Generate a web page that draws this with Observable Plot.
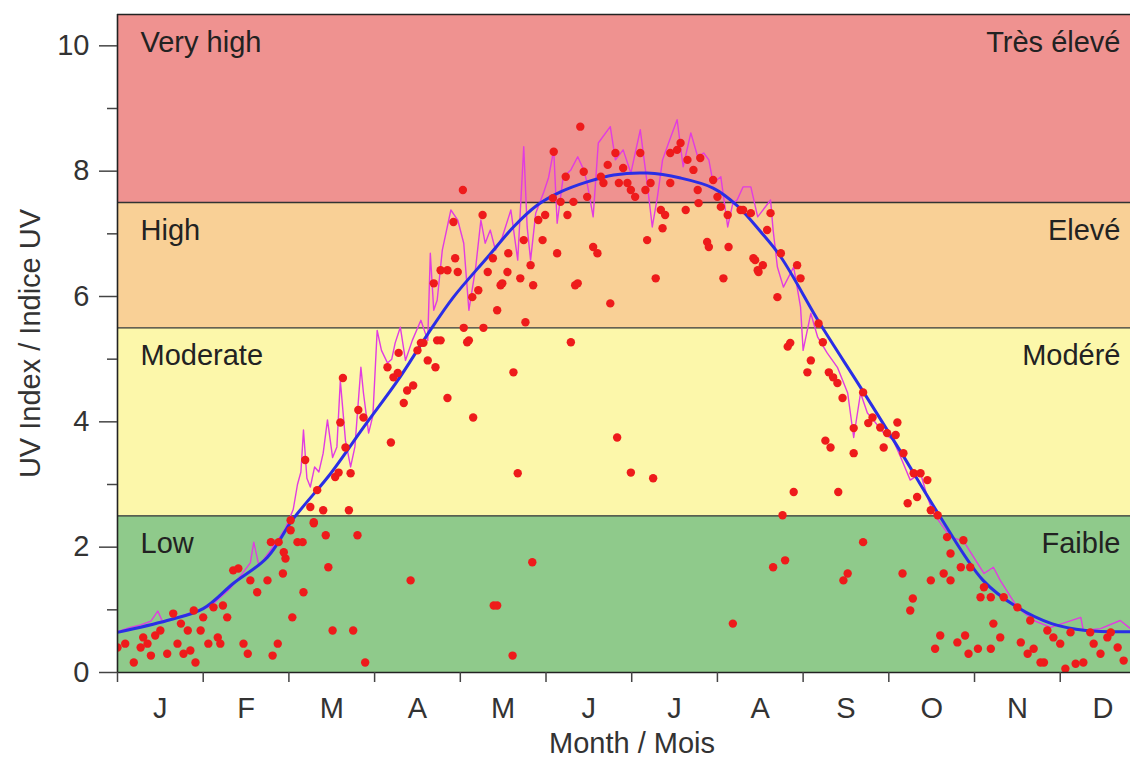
<!DOCTYPE html>
<html>
<head>
<meta charset="utf-8">
<script src="https://cdn.jsdelivr.net/npm/d3@7"></script>
<script src="https://cdn.jsdelivr.net/npm/@observablehq/plot@0.6"></script>
<style>
  html, body { margin: 0; padding: 0; background: #fff; }
  #chart svg { display: block; }
</style>
</head>
<body>
<div id="chart"></div>
<script>
// Month labels and boundaries (x in month units, 0 = 1 January)
const monthLabels = ["J","F","M","A","M","J","J","A","S","O","N","D"];
const monthStarts = [0,1,2,3,4,5,6,7,8,9,10,11];
const monthCentres = [0.5,1.5,2.5,3.5,4.5,5.5,6.5,7.5,8.5,9.5,10.5,11.5];
const xEnd = 11.82;     // visible end of the year
const yTop = 10.5;

// UV-index categories
const bandLow = [0, 2.5, 5.5, 7.5];
const bandHigh = [2.5, 5.5, 7.5, 10.5];
const bandEnglish = ["Low", "Moderate", "High", "Very high"];
const bandFrench = ["Faible", "Modéré", "Elevé", "Très élevé"];
const bandColours = ["#8fca8b", "#fcf7aa", "#f9d096", "#ef9290"];

const majorTicks = [0, 2, 4, 6, 8, 10];
const minorTicks = [1, 3, 5, 7, 9];

// Smooth climatological curve [month, UV]
const climatology = [
  [0.00,0.64],[0.58,0.83],[1.00,1.02],[1.35,1.42],[1.75,1.84],[2.05,2.45],
  [2.49,3.18],[2.87,3.91],[3.27,4.66],[3.62,5.40],[3.92,5.99],[4.32,6.63],
  [4.62,7.11],[4.90,7.46],[5.17,7.67],[5.48,7.83],[5.79,7.94],[6.18,7.97],
  [6.57,7.89],[6.95,7.73],[7.23,7.45],[7.50,7.04],[7.74,6.63],[8.20,5.56],
  [8.67,4.55],[9.14,3.52],[9.57,2.55],[10.10,1.47],[10.50,1.04],[10.90,0.78],
  [11.30,0.67],[11.82,0.65]
];

// Noisy daily clear-sky maximum [month, UV]
const dailyMax = [
  [0.00,0.65],[0.15,0.72],[0.27,0.76],[0.39,0.82],[0.47,0.98],[0.53,0.80],[0.62,0.85],
  [0.74,0.90],[0.85,0.95],[0.97,1.00],[1.09,1.06],[1.20,1.20],[1.32,1.35],[1.44,1.55],
  [1.55,1.75],[1.59,2.08],[1.65,1.70],[1.73,1.85],[1.84,2.05],[1.96,2.30],[2.05,2.60],
  [2.10,3.00],[2.14,3.20],[2.17,3.87],[2.21,3.10],[2.25,2.96],[2.30,3.28],[2.35,3.20],
  [2.40,3.50],[2.45,4.03],[2.51,3.43],[2.56,3.60],[2.60,4.66],[2.66,3.70],[2.72,3.28],
  [2.77,3.60],[2.84,4.87],[2.87,4.46],[2.93,3.82],[2.98,4.10],[3.03,5.46],[3.08,5.14],
  [3.15,4.94],[3.20,5.00],[3.24,5.26],[3.30,5.51],[3.36,4.98],[3.44,5.30],[3.54,5.62],
  [3.62,5.30],[3.65,6.69],[3.69,5.78],[3.73,5.94],[3.79,6.74],[3.89,7.38],[3.97,7.22],
  [4.04,6.85],[4.10,5.78],[4.18,6.47],[4.24,7.22],[4.29,6.85],[4.35,7.06],[4.41,6.74],
  [4.49,6.95],[4.59,7.38],[4.67,6.58],[4.74,8.39],[4.78,7.11],[4.82,6.58],[4.88,7.33],
  [4.97,7.65],[5.03,7.90],[5.09,8.34],[5.13,7.17],[5.20,7.90],[5.29,8.02],[5.37,8.23],
  [5.44,8.02],[5.48,7.81],[5.55,7.27],[5.61,8.45],[5.75,8.71],[5.81,8.18],[5.90,8.34],
  [5.99,7.97],[6.10,8.66],[6.18,7.81],[6.24,7.11],[6.30,7.59],[6.36,8.18],[6.43,8.45],
  [6.53,8.82],[6.60,8.07],[6.69,8.61],[6.77,8.23],[6.84,8.29],[6.90,8.18],[6.95,7.81],
  [7.04,7.91],[7.12,7.11],[7.18,7.49],[7.23,7.54],[7.30,7.75],[7.39,7.75],[7.47,7.27],
  [7.62,7.54],[7.65,7.06],[7.70,6.47],[7.77,6.15],[7.89,6.47],[7.97,5.83],[8.00,5.14],
  [8.09,5.73],[8.17,5.35],[8.28,5.10],[8.40,4.87],[8.52,4.46],[8.59,3.75],[8.67,4.46],
  [8.75,4.14],[8.82,4.03],[8.94,3.82],[9.05,3.71],[9.14,3.43],[9.25,3.07],[9.37,3.18],
  [9.45,2.80],[9.52,2.54],[9.72,2.16],[9.87,2.10],[10.11,1.58],[10.22,1.68],[10.30,1.47],
  [10.50,1.04],[10.69,0.83],[10.89,0.72],[11.24,0.88],[11.27,0.67],[11.47,0.70],
  [11.70,0.83],[11.82,0.70]
];

// Measured daily maxima [month, UV]
const observed = [
  [0.00,0.40],[0.09,0.46],[0.19,0.16],[0.27,0.40],[0.30,0.56],[0.35,0.46],[0.39,0.27],
  [0.44,0.59],[0.50,0.67],[0.58,0.30],[0.65,0.94],[0.70,0.46],[0.74,0.78],[0.77,0.30],
  [0.82,0.67],[0.85,0.35],[0.91,0.16],[0.89,0.99],[0.97,0.67],[1.00,0.88],[1.06,0.46],
  [1.12,1.04],[1.17,0.56],[1.20,0.46],[1.23,1.07],[1.28,0.88],[1.35,1.63],[1.41,1.66],
  [1.47,0.46],[1.52,0.30],[1.55,1.47],[1.63,1.28],[1.75,1.47],[1.79,2.08],[1.88,2.08],
  [1.81,0.27],[1.87,0.46],[1.93,1.58],[1.96,1.82],[1.94,1.92],[2.04,0.88],[2.02,2.27],
  [2.10,2.08],[2.16,2.08],[2.17,1.28],[2.29,2.38],[2.43,2.19],[2.46,1.68],[2.51,0.67],
  [2.70,2.59],[2.80,2.19],[2.75,0.67],[2.89,0.16],[2.40,2.59],
  [2.02,2.43],[2.25,2.64],[2.29,2.40],[2.33,2.91],[2.19,3.39],[2.54,3.12],[2.58,3.19],
  [2.66,3.59],[2.72,3.18],[2.60,3.99],[2.63,4.70],[2.81,4.19],[2.87,4.07],[3.19,3.67],
  [3.22,4.71],[3.27,4.78],[3.15,4.87],[3.28,5.10],[3.34,4.30],[3.38,4.50],[3.45,4.58],
  [3.50,5.14],[3.54,5.26],[3.62,4.98],[3.71,4.87],[3.73,5.30],
  [4.62,4.79],[4.15,4.07],[3.85,4.38],[4.67,3.18],[4.43,5.78],[4.76,5.59],[5.29,5.27],
  [4.27,5.50],[4.04,5.50],[4.08,5.27],[4.47,6.18],[4.85,6.18],[5.34,6.18],
  [3.57,5.26],[3.77,5.30],[4.10,5.30],[4.21,6.10],[4.14,5.99],[4.32,6.39],[4.49,6.21],
  [4.55,6.39],[4.70,6.29],[5.37,6.21],[3.69,6.21],[3.77,6.42],[3.85,6.42],[3.97,6.39],
  [3.94,6.61],[3.92,7.19],[4.26,7.30],[4.38,6.61],[4.56,6.69],[4.74,6.90],[4.82,6.50],
  [4.96,6.90],[5.13,6.69],[4.91,7.22],[4.99,7.30],[5.25,7.30],[4.03,7.70],[5.09,8.31],
  [5.40,8.71],[5.23,7.91],[5.44,7.99],[5.08,7.57],[5.17,7.51],[5.32,7.51],[5.48,7.59],
  [5.64,7.91],[5.67,7.81],[5.72,8.10],[5.81,8.29],[5.85,7.81],[5.90,8.05],[5.95,7.81],
  [5.99,7.70],[6.04,7.59],[6.10,8.29],[6.16,7.70],[6.22,7.81],[6.34,7.38],[6.39,7.30],
  [6.36,7.09],[6.45,7.81],[6.45,8.29],[6.53,8.34],[6.57,8.45],[6.65,8.18],[6.72,8.02],
  [6.77,7.70],[6.80,8.21],[6.78,7.49],[6.63,7.38],[6.95,7.86],[7.00,7.59],[7.04,7.43],
  [7.12,7.30],[7.27,7.38],[6.18,6.90],[5.55,6.79],[5.60,6.69],[6.88,6.87],[6.90,6.79],
  [7.13,6.79],[7.42,6.61],[7.47,6.42],[6.28,6.29],[7.07,6.29],[5.75,5.89],
  [5.83,3.75],[5.99,3.19],[6.25,3.10],[3.42,1.47],[4.39,1.07],[4.43,1.07],[4.61,0.27],
  [4.84,1.76],[7.18,0.78],
  [7.30,7.38],[7.39,7.33],[7.62,7.33],[7.58,7.06],[7.44,6.58],[7.53,6.50],[7.48,6.39],
  [7.74,6.69],[7.93,6.50],[7.97,6.29],[7.70,5.99],[8.18,5.57],[8.23,5.27],[7.85,5.26],
  [7.82,5.20],[8.09,4.98],[8.05,4.79],[8.30,4.79],[8.35,4.71],[8.46,4.38],[8.40,4.62],
  [8.59,3.90],[8.70,4.47],[8.81,4.07],[8.76,3.98],[8.90,3.91],[9.10,3.99],[8.98,3.82],
  [9.08,3.79],[8.94,3.59],[8.26,3.70],[8.32,3.59],[8.59,3.50],[9.17,3.50],[9.29,3.18],
  [9.37,3.18],[9.45,3.07],[9.22,2.70],[9.33,2.80],[9.49,2.59],[9.57,2.51],[7.89,2.88],
  [8.41,2.88],[7.76,2.51],
  [8.70,2.08],[7.65,1.68],[7.79,1.79],[8.52,1.58],[8.47,1.47],[9.16,1.58],[9.49,1.47],
  [9.64,1.58],[9.72,1.47],[9.28,1.18],[9.25,0.99],[9.72,1.90],[9.68,2.16],[9.87,2.11],
  [9.84,1.68],[9.95,1.68],[10.11,1.36],[10.07,1.20],[10.19,1.20],[10.22,0.78],[10.30,0.56],
  [9.60,0.59],[9.54,0.38],[9.80,0.48],[9.89,0.59],[9.93,0.30],[10.04,0.38],[10.19,0.38],
  [10.34,1.20],[10.50,1.04],[10.54,0.48],[10.62,0.30],[10.69,0.38],[10.81,0.16],[10.77,0.16],
  [10.65,0.83],[10.85,0.67],[10.92,0.56],[11.00,0.46],[11.12,0.64],[11.06,0.06],[11.18,0.14],
  [11.27,0.16],[11.39,0.46],[11.47,0.30],[11.55,0.56],[11.59,0.64],[11.67,0.40],[11.74,0.19],
  [11.35,0.64]
];

const bands = bandLow.map((lo, i) => ({
  lo, hi: bandHigh[i], en: bandEnglish[i], fr: bandFrench[i], colour: bandColours[i]
}));

const font = "'Liberation Sans', Arial, Helvetica, sans-serif";
const fs = 29;

const chart = Plot.plot({
  width: 1130,
  height: 760,
  marginLeft: 117,
  marginRight: 0,
  marginTop: 14,
  marginBottom: 88,
  style: { fontFamily: font, fontSize: fs + "px", color: "#333", background: "#fff" },
  x: { domain: [0, xEnd], axis: null },
  y: { domain: [0, yTop], axis: null },
  marks: [
    ...bands.map(b => Plot.rect([b], { x1: 0, x2: xEnd, y1: "lo", y2: "hi", fill: b.colour })),
    Plot.ruleY(bandLow.slice(1), { stroke: "#333", strokeWidth: 1.3 }),
    Plot.text(bands, { x: 0, y: "hi", text: "en", dx: 23, dy: 28, textAnchor: "start",
      lineAnchor: "middle", fontSize: fs, fill: "#222" }),
    Plot.text(bands, { x: xEnd, y: "hi", text: "fr", dx: -10, dy: 28, textAnchor: "end",
      lineAnchor: "middle", fontSize: fs, fill: "#222" }),
    Plot.line(dailyMax, { x: d => d[0], y: d => d[1], stroke: "#e13ce1", strokeWidth: 1.4, clip: true }),
    Plot.line(climatology, { x: d => d[0], y: d => d[1], curve: "catmull-rom",
      stroke: "#2a2ee6", strokeWidth: 3, clip: true }),
    Plot.dot(observed, { x: d => d[0], y: d => d[1], r: 4.2, fill: "#ee1b1b", stroke: "none", clip: true }),
    Plot.ruleY([0, yTop], { stroke: "#222", strokeWidth: 1.6 }),
    Plot.ruleX([0], { stroke: "#222", strokeWidth: 1.6 }),
    Plot.axisY({ ticks: majorTicks, tickSize: 18, tickPadding: 10, fontSize: fs, label: null, stroke: "#444", strokeWidth: 1.5 }),
    Plot.axisY({ ticks: minorTicks, tickSize: 10, tickFormat: () => "", label: null, stroke: "#444", strokeWidth: 1.5 }),
    Plot.axisX({ ticks: monthStarts, tickSize: 10, tickFormat: () => "", label: null, stroke: "#444", strokeWidth: 1.5 }),
    Plot.axisX({ ticks: monthCentres, tickSize: 0, tickPadding: 25, fontSize: fs, label: null,
      tickFormat: (d, i) => monthLabels[i] }),
    Plot.text(["UV Index / Indice UV"], { frameAnchor: "left", dx: -87, rotate: -90,
      textAnchor: "middle", fontSize: fs, fill: "#333", lineAnchor: "middle" }),
    Plot.text(["Month / Mois"], { frameAnchor: "bottom", dx: 8, dy: 71,
      textAnchor: "middle", fontSize: fs, fill: "#333", lineAnchor: "middle" })
  ]
});

document.getElementById("chart").appendChild(chart);
</script>
</body>
</html>
